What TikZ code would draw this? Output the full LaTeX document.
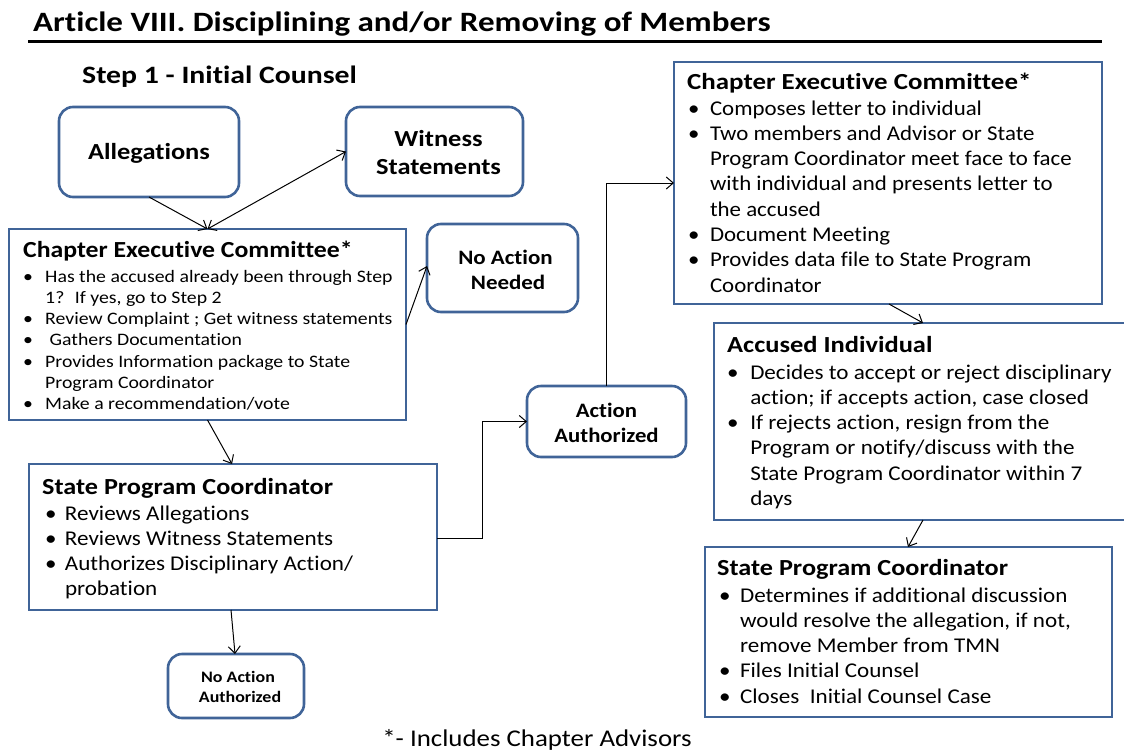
\documentclass[tikz,border=0pt]{standalone}
\usepackage{graphicx}
\usepackage{fontspec}
\setmainfont{Carlito}[Ligatures={NoCommon}]
\usetikzlibrary{arrows.meta,calc}
\definecolor{boxblue}{RGB}{64,100,152}
\newcommand\blist[2]{\begin{tabular}[t]{@{}p{#1}@{}l@{}}#2\end{tabular}}
\newcommand\ctab[1]{\begin{tabular}{@{}c@{}}#1\end{tabular}}
\newcommand\sx[2]{\scalebox{#1}[1]{#2}}
\begin{document}
\begin{tikzpicture}[x=1pt,y=-1pt,
 sq/.style={draw=boxblue,line width=2.6pt,anchor=north west,inner sep=0,outer sep=0,fill=white},
 rd/.style={sq,rounded corners=14pt},
 tip/.tip={Straight Barb[length=7pt,width=12pt]},
 conn/.style={line width=1pt,-tip},
 conn2/.style={line width=1pt,tip-tip},
 hd/.style={anchor=base west,inner sep=0,font=\fontsize{23}{27}\selectfont\bfseries},
 lst/.style={anchor=base west,inner sep=0,font=\fontsize{21}{25.3}\selectfont},
 slst/.style={anchor=base west,inner sep=0,font=\fontsize{17.5}{21.3}\selectfont},
 ctr/.style={inner sep=0,align=center}
]
\useasboundingbox (0,0) rectangle (1124,750);

% title
\node[anchor=base west,inner sep=0,font=\fontsize{28}{32}\selectfont\bfseries] (title) at (33,31) {\sx{1.18}{Article VIII. Disciplining and/or Removing of Members}};
\coordinate (ulA) at (28,41);
\coordinate (ulB) at (1102,41);
\draw[line width=3pt] (ulA) -- (ulB);
\node[anchor=base west,inner sep=0,font=\fontsize{25}{29}\selectfont\bfseries] (step) at (82,83) {\sx{1.19}{Step 1 - Initial Counsel}};

% boxes
\node[rd,minimum width=180pt,minimum height=90pt] (alleg) at (59,107) {};
\node[ctr,font=\fontsize{23}{28}\selectfont\bfseries] (allegt) at ([yshift=-1pt]alleg.center) {\sx{1.15}{Allegations}};
\node[rd,minimum width=177pt,minimum height=89pt] (wit) at (346,107) {};
\node[ctr,font=\fontsize{23}{28}\selectfont\bfseries] (witt) at ([xshift=4pt,yshift=-3pt]wit.center) {\sx{1.15}{\ctab{Witness\\Statements}}};

\node[sq,minimum width=397pt,minimum height=191pt] (cec1) at (9,229) {};
\node[hd] (cec1h) at (23,257) {\sx{1.12}{Chapter Executive Committee*}};
\node[slst] (cec1l) at (23,282) {\sx{1.13}{\blist{19.5pt}{%
• & Has the accused already been through Step\\
  & 1?~ If yes, go to Step 2\\
• & Review Complaint ; Get witness statements\\
• & \ Gathers Documentation\\
• & Provides Information package to State\\
  & Program Coordinator\\
• & Make a recommendation/vote}}};

\node[rd,minimum width=151pt,minimum height=88pt] (nan) at (427,224) {};
\node[ctr,font=\fontsize{20.5}{25}\selectfont\bfseries] (nant) at ([xshift=3pt,yshift=-4pt]nan.center) {\sx{1.12}{\ctab{No Action\\ \ Needed}}};

\node[sq,minimum width=408pt,minimum height=146pt] (spc1) at (29,464) {};
\node[hd] (spc1h) at (42,494) {\sx{1.14}{State Program Coordinator}};
\node[lst] (spc1l) at (45,520) {\sx{1.1}{\blist{18pt}{%
• & Reviews Allegations\\
• & Reviews Witness Statements\\
• & Authorizes Disciplinary Action/\\
  & probation}}};

\node[rd,minimum width=136pt,minimum height=64pt] (naa) at (168,654) {};
\node[ctr,font=\fontsize{16}{20}\selectfont\bfseries] (naat) at ([xshift=2pt,yshift=-2pt]naa.center) {\sx{1.12}{\ctab{No Action\\ \ Authorized}}};

\node[rd,minimum width=159pt,minimum height=71pt] (act) at (527,386) {};
\node[ctr,font=\fontsize{20.5}{25}\selectfont\bfseries] (actt) at ([yshift=-3pt]act.center) {\sx{1.11}{\ctab{Action\\Authorized}}};

\node[sq,minimum width=428pt,minimum height=242pt] (cec2) at (674,62) {};
\node[hd] (cec2h) at (687,89) {\sx{1.17}{Chapter Executive Committee*}};
\node[lst] (cec2l) at (688,115) {\sx{1.09}{\blist{20pt}{%
• & Composes letter to individual\\
• & Two members and Advisor or State\\
  & Program Coordinator meet face to face\\
  & with individual and presents letter to\\
  & the accused\\
• & Document Meeting\\
• & Provides data file to State Program\\
  & Coordinator}}};

\node[sq,minimum width=420pt,minimum height=197pt] (acc) at (714,323) {};
\node[hd] (acch) at (727,352) {\sx{1.15}{Accused Individual}};
\node[lst] (accl) at (727,379) {\sx{1.1}{\blist{21pt}{%
• & Decides to accept or reject disciplinary\\
  & action; if accepts action, case closed\\
• & If rejects action, resign from the\\
  & Program or notify/discuss with the\\
  & State Program Coordinator within 7\\
  & days}}};

\node[sq,minimum width=407pt,minimum height=170pt] (spc2) at (705,547) {};
\node[hd] (spc2h) at (717,575) {\sx{1.14}{State Program Coordinator}};
\node[lst] (spc2l) at (719,602) {\sx{1.1}{\blist{19pt}{%
• & Determines if additional discussion\\
  & would resolve the allegation, if not,\\
  & remove Member from TMN\\
• & Files Initial Counsel\\
• & Closes~ Initial Counsel Case}}};

\node[anchor=base,inner sep=0,font=\fontsize{24}{28}\selectfont] (foot) at (537,746) {\sx{1.12}{*- Includes Chapter Advisors}};

% connectors
\draw[conn] (alleg.south) -- (cec1.north);
\draw[conn2] (cec1.north) -- (wit.west);
\draw[conn] (cec1.east) -- ([yshift=2pt]nan.west);
\draw[conn] (cec1.south) -- ([xshift=-1pt]spc1.north);
\draw[conn] ([xshift=-2pt]spc1.south) -- ([xshift=-1pt]naa.north);
\draw[conn] ([yshift=-1pt]spc1.east) -- ++(45,0) |- (act.west);
\draw[conn] (act.north) |- (cec2.west);
\draw[conn] ([xshift=215pt]cec2.south west) -- ([xshift=209pt]acc.north west);
\draw[conn] ([xshift=209pt]acc.south west) -- ([xshift=203pt]spc2.north west);
\end{tikzpicture}
\end{document}
